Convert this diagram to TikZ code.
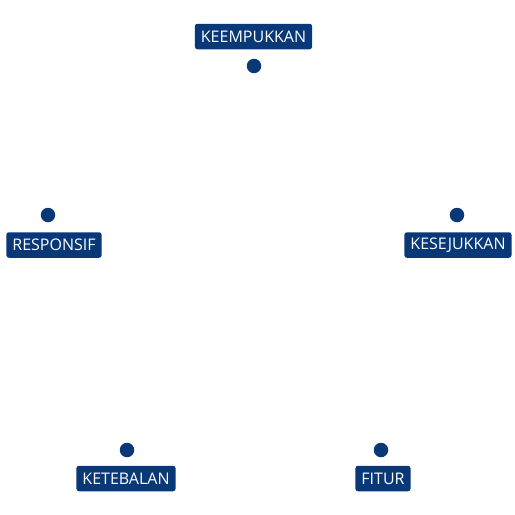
\documentclass[tikz,border=0pt]{standalone}
\usepackage{fontspec}
\setmainfont{Open Sans}
\usepackage{tikz}
\usetikzlibrary{positioning}
\definecolor{AxNavy}{HTML}{083878}
\begin{document}
\begin{tikzpicture}[
  x=1pt,y=-1pt,
  lbl/.style={fill=AxNavy,text=white,rounded corners=2.5pt,inner xsep=6pt,inner ysep=0pt,minimum height=25.5pt,font=\fontsize{16}{18}\selectfont},
  dot/.style={circle,fill=AxNavy,inner sep=0pt,minimum size=14.5pt}
]
\useasboundingbox (0,0) rectangle (515,515);
\node[dot] (d1) at (254,66) {};
\node[dot] (d2) at (457,215) {};
\node[dot] (d3) at (381,450) {};
\node[dot] (d4) at (127,450) {};
\node[dot] (d5) at (48,215) {};
\node[lbl] (keempukkan) at (253.5,36.5) {KEEMPUKKAN};
\node[lbl] (kesejukkan) at (458,245) {KESEJUKKAN};
\node[lbl] (fitur) at (383,478.5) {FITUR};
\node[lbl] (ketebalan) at (126,478.5) {KETEBALAN};
\node[lbl] (responsif) at (54,245) {RESPONSIF};
\end{tikzpicture}
\end{document}
